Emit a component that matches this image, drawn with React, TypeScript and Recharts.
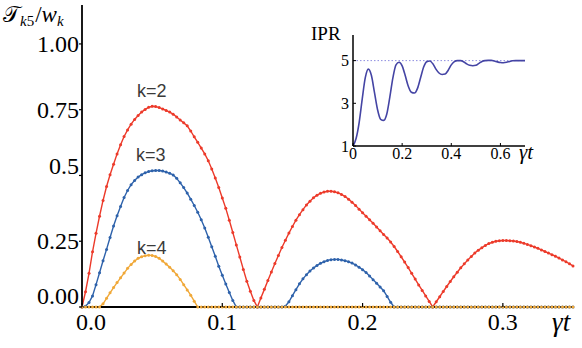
import React from "react";
import { LineChart, Line, XAxis, YAxis, ReferenceLine } from "recharts";

// sampling times (gamma t) of the main panel
const TIMES = [
  0, 0.0025, 0.005, 0.0075, 0.01, 0.0125, 0.015, 0.0175, 0.02, 0.0225,
  0.025, 0.0275, 0.03, 0.0325, 0.035, 0.0375, 0.04, 0.0425, 0.045, 0.0475,
  0.05, 0.0525, 0.055, 0.0575, 0.06, 0.0625, 0.065, 0.0675, 0.07, 0.0725,
  0.075, 0.0775, 0.08, 0.0825, 0.085, 0.0875, 0.09, 0.0925, 0.095, 0.0975,
  0.1, 0.1025, 0.105, 0.1075, 0.11, 0.1125, 0.115, 0.1175, 0.12, 0.1225,
  0.125, 0.1275, 0.13, 0.1325, 0.135, 0.1375, 0.14, 0.1425, 0.145, 0.1475,
  0.15, 0.1525, 0.155, 0.1575, 0.16, 0.1625, 0.165, 0.1675, 0.17, 0.1725,
  0.175, 0.1775, 0.18, 0.1825, 0.185, 0.1875, 0.19, 0.1925, 0.195, 0.1975,
  0.2, 0.2025, 0.205, 0.2075, 0.21, 0.2125, 0.215, 0.2175, 0.22, 0.2225,
  0.225, 0.2275, 0.23, 0.2325, 0.235, 0.2375, 0.24, 0.2425, 0.245, 0.2475,
  0.25, 0.2525, 0.255, 0.2575, 0.26, 0.2625, 0.265, 0.2675, 0.27, 0.2725,
  0.275, 0.2775, 0.28, 0.2825, 0.285, 0.2875, 0.29, 0.2925, 0.295, 0.2975,
  0.3, 0.3025, 0.305, 0.3075, 0.31, 0.3125, 0.315, 0.3175, 0.32, 0.3225,
  0.325, 0.3275, 0.33, 0.3325, 0.335, 0.3375, 0.34, 0.3425, 0.345, 0.3475,
  0.35,
];

// T_k5 / w_k for k = 2
const K2 = [
  0, 0.058, 0.128, 0.21, 0.28, 0.345, 0.405, 0.458, 0.503, 0.543,
  0.582, 0.617, 0.648, 0.673, 0.695, 0.713, 0.728, 0.741, 0.751, 0.759,
  0.763, 0.762, 0.758, 0.753, 0.747, 0.741, 0.733, 0.722, 0.711, 0.7,
  0.689, 0.669, 0.647, 0.626, 0.604, 0.582, 0.556, 0.525, 0.49, 0.454,
  0.414, 0.375, 0.33, 0.283, 0.236, 0.19, 0.143, 0.098, 0.06, 0.025,
  0, 0.034, 0.067, 0.101, 0.133, 0.165, 0.196, 0.226, 0.254, 0.281,
  0.306, 0.33, 0.351, 0.37, 0.388, 0.402, 0.415, 0.425, 0.432, 0.437,
  0.44, 0.44, 0.438, 0.434, 0.428, 0.42, 0.41, 0.398, 0.386, 0.372,
  0.358, 0.345, 0.332, 0.318, 0.304, 0.29, 0.276, 0.262, 0.247, 0.23,
  0.211, 0.191, 0.171, 0.15, 0.128, 0.106, 0.084, 0.063, 0.042, 0.021,
  0, 0.02, 0.039, 0.059, 0.078, 0.097, 0.115, 0.132, 0.149, 0.164,
  0.179, 0.192, 0.205, 0.216, 0.225, 0.234, 0.241, 0.246, 0.25, 0.252,
  0.253, 0.253, 0.252, 0.251, 0.249, 0.246, 0.242, 0.238, 0.233, 0.228,
  0.223, 0.217, 0.211, 0.205, 0.199, 0.193, 0.186, 0.179, 0.172, 0.164,
  0.156,
];

// k = 3
const K3 = [
  0, 0.003, 0.017, 0.042, 0.085, 0.13, 0.176, 0.219, 0.264, 0.308,
  0.347, 0.382, 0.416, 0.443, 0.465, 0.481, 0.494, 0.503, 0.51, 0.515,
  0.518, 0.519, 0.519, 0.517, 0.513, 0.508, 0.502, 0.489, 0.472, 0.454,
  0.433, 0.41, 0.386, 0.36, 0.332, 0.3, 0.265, 0.229, 0.193, 0.155,
  0.121, 0.087, 0.055, 0.025, 0, 0, 0, 0, 0, 0,
  0, 0, 0, 0, 0, 0, 0, 0, 0.003, 0.02,
  0.043, 0.066, 0.088, 0.107, 0.123, 0.137, 0.148, 0.158, 0.166, 0.172,
  0.177, 0.18, 0.181, 0.181, 0.179, 0.176, 0.172, 0.167, 0.16, 0.151,
  0.142, 0.131, 0.118, 0.104, 0.09, 0.076, 0.062, 0.04, 0.018, 0,
  0, 0, 0, 0, 0, 0, 0, 0, 0, 0,
  0, 0, 0, 0, 0, 0, 0, 0, 0, 0,
  0, 0, 0, 0, 0, 0, 0, 0, 0, 0,
  0, 0, 0, 0, 0, 0, 0, 0, 0, 0,
  0, 0, 0, 0, 0, 0, 0, 0, 0, 0,
  0,
];

// k = 4
const K4 = [
  0, 0, 0, 0, 0, 0, 0.012, 0.033, 0.054, 0.074,
  0.093, 0.111, 0.129, 0.147, 0.162, 0.175, 0.185, 0.191, 0.195, 0.197,
  0.196, 0.192, 0.185, 0.175, 0.163, 0.151, 0.138, 0.123, 0.105, 0.085,
  0.065, 0.045, 0.022, 0, 0, 0, 0, 0, 0, 0,
  0, 0, 0, 0, 0, 0, 0, 0, 0, 0,
  0, 0, 0, 0, 0, 0, 0, 0, 0, 0,
  0, 0, 0, 0, 0, 0, 0, 0, 0, 0,
  0, 0, 0, 0, 0, 0, 0, 0, 0, 0,
  0, 0, 0, 0, 0, 0, 0, 0, 0, 0,
  0, 0, 0, 0, 0, 0, 0, 0, 0, 0,
  0, 0, 0, 0, 0, 0, 0, 0, 0, 0,
  0, 0, 0, 0, 0, 0, 0, 0, 0, 0,
  0, 0, 0, 0, 0, 0, 0, 0, 0, 0,
  0, 0, 0, 0, 0, 0, 0, 0, 0, 0,
  0,
];

const X_TICKS = [0, 0.1, 0.2, 0.3];
const X_TICK_LABELS = ["0.0", "0.1", "0.2", "0.3"];
const Y_TICKS = [0, 0.25, 0.5, 0.75, 1];
const Y_TICK_LABELS = ["0.00", "0.25", "0.5", "0.75", "1.00"];

// inset: IPR vs gamma t
const IPR_TIMES = [
  0, 0.0125, 0.025, 0.0375, 0.05, 0.0625, 0.075, 0.0875, 0.1, 0.1125,
  0.125, 0.1375, 0.15, 0.1625, 0.175, 0.1875, 0.2, 0.2125, 0.225, 0.2375,
  0.25, 0.2625, 0.275, 0.2875, 0.3, 0.3125, 0.325, 0.3375, 0.35, 0.3625,
  0.375, 0.3875, 0.4, 0.4125, 0.425, 0.4375, 0.45, 0.4625, 0.475, 0.4875,
  0.5, 0.5125, 0.525, 0.5375, 0.55, 0.5625, 0.575, 0.5875, 0.6, 0.6125,
  0.625, 0.6375, 0.65, 0.6625, 0.675, 0.6875, 0.7,
];
const IPR = [
  1.0, 1.35, 2.1, 3.2, 4.2, 4.6, 4.3, 3.5, 2.7, 2.25,
  2.2, 2.5, 3.3, 4.2, 4.8, 4.92, 4.75, 4.3, 3.8, 3.52,
  3.48, 3.7, 4.2, 4.7, 4.95, 4.98, 4.85, 4.6, 4.42, 4.35,
  4.37, 4.55, 4.8, 4.95, 5.0, 5.0, 4.95, 4.85, 4.78, 4.76,
  4.78, 4.87, 4.96, 5.0, 5.01, 5.01, 4.98, 4.94, 4.91, 4.9,
  4.92, 4.96, 4.99, 5.0, 5.0, 5.0, 5.0,
];
const IPR_X_TICKS = [0, 0.2, 0.4, 0.6];
const IPR_X_LABELS = ["0", "0.2", "0.4", "0.6"];
const IPR_Y_TICKS = [1, 3, 5];
const IPR_LIMIT = 5;

const SERIF = '"Liberation Serif", "Times New Roman", serif';
const SANS = '"Liberation Sans", Arial, sans-serif';
const MATH = '"DejaVu Serif", "DejaVu Sans", serif';
const RED = "#ec3a2a";
const BLUE = "#2e62ab";
const ORANGE = "#f0a838";
const INK = "#000";

const rows = TIMES.map((t, i) => ({ t, k2: K2[i], k3: K3[i], k4: K4[i] }));
const iprRows = IPR_TIMES.map((t, i) => ({ t, ipr: IPR[i] }));

// label nudges as in the original figure
const Y_LABEL_SHIFT: Record<number, number> = { 0: -11, 0.5: -9 };

const serif = (size: number, italic = false): React.CSSProperties => ({
  fontFamily: SERIF,
  fontSize: size,
  fontStyle: italic ? "italic" : "normal",
});

function MainXTick(props: any) {
  const { x, y, payload } = props;
  const label = X_TICK_LABELS[X_TICKS.indexOf(payload.value)];
  const dx = payload.value === 0 ? 9 : 0;
  return (
    <g>
      <line x1={x} x2={x} y1={y} y2={y - 4} stroke={INK} strokeWidth={1.2} />
      <text x={x + dx} y={y + 23} textAnchor="middle" fill={INK} style={serif(24)}>
        {label}
      </text>
    </g>
  );
}

function MainYTick(props: any) {
  const { x, y, payload } = props;
  const label = Y_TICK_LABELS[Y_TICKS.indexOf(payload.value)];
  const shift = Y_LABEL_SHIFT[payload.value] ?? 0;
  return (
    <g>
      <line x1={x - 3} x2={x} y1={y} y2={y} stroke={INK} strokeWidth={1.2} />
      <text x={x - 3} y={y + 8 + shift} textAnchor="end" fill={INK} style={serif(24)}>
        {label}
      </text>
    </g>
  );
}

function InsetXTick(props: any) {
  const { x, y, payload } = props;
  const label = IPR_X_LABELS[IPR_X_TICKS.indexOf(payload.value)];
  return (
    <g>
      <line x1={x} x2={x} y1={y} y2={y - 3} stroke={INK} strokeWidth={1} />
      <text x={x} y={y + 12.5} textAnchor="middle" fill={INK} style={serif(16)}>
        {label}
      </text>
    </g>
  );
}

function InsetYTick(props: any) {
  const { x, y, payload } = props;
  return (
    <g>
      <line x1={x} x2={x + 3} y1={y} y2={y} stroke={INK} strokeWidth={1} />
      <text x={x - 4} y={y + 5.5} textAnchor="end" fill={INK} style={serif(16)}>
        {payload.value}
      </text>
    </g>
  );
}

const frame = { stroke: INK, strokeWidth: 1.8 };
const insetFrame = { stroke: INK, strokeWidth: 1.5 };

export default function App() {
  return (
    <div style={{ position: "absolute", left: 0, top: 0, width: 582, height: 348, background: "#fff" }}>
      <LineChart width={582} height={348} data={rows} margin={{ top: 5, right: 9, bottom: 0, left: 0 }}>
        <XAxis
          dataKey="t"
          type="number"
          domain={[0, 0.35]}
          ticks={X_TICKS}
          tick={<MainXTick />}
          tickLine={false}
          tickSize={0}
          tickMargin={0}
          height={41}
          axisLine={frame}
        />
        <XAxis xAxisId="top" orientation="top" type="number" domain={[0, 0.35]} tick={false} tickLine={false} height={0} axisLine={frame} />
        <YAxis
          type="number"
          domain={[0, 1.148]}
          ticks={Y_TICKS}
          tick={<MainYTick />}
          tickLine={false}
          tickSize={0}
          tickMargin={0}
          width={82}
          axisLine={frame}
        />
        <YAxis yAxisId="right" orientation="right" type="number" domain={[0, 1.148]} tick={false} tickLine={false} width={0} axisLine={frame} />
        <Line type="linear" dataKey="k2" stroke={RED} strokeWidth={1.4} dot={{ r: 1.5, fill: RED, stroke: "none" }} isAnimationActive={false} />
        <Line type="linear" dataKey="k3" stroke={BLUE} strokeWidth={1.4} dot={{ r: 1.5, fill: BLUE, stroke: "none" }} isAnimationActive={false} />
        <Line type="linear" dataKey="k4" stroke={ORANGE} strokeWidth={1.4} dot={{ r: 1.5, fill: ORANGE, stroke: "none" }} isAnimationActive={false} />
      </LineChart>

      <div style={{ position: "absolute", left: 300, top: 10 }}>
        <LineChart width={240} height={165} data={iprRows} margin={{ top: 25, right: 15, bottom: 0, left: 0 }}>
          <XAxis
            dataKey="t"
            type="number"
            domain={[0, 0.7]}
            ticks={IPR_X_TICKS}
            tick={<InsetXTick />}
            tickLine={false}
            tickSize={0}
            tickMargin={0}
            height={29}
            axisLine={insetFrame}
          />
          <XAxis xAxisId="top" orientation="top" type="number" domain={[0, 0.7]} tick={false} tickLine={false} height={0} axisLine={insetFrame} />
          <YAxis
            type="number"
            domain={[1, 6.2]}
            ticks={IPR_Y_TICKS}
            tick={<InsetYTick />}
            tickLine={false}
            tickSize={0}
            tickMargin={0}
            width={53}
            axisLine={insetFrame}
          />
          <YAxis yAxisId="right" orientation="right" type="number" domain={[1, 6.2]} tick={false} tickLine={false} width={0} axisLine={insetFrame} />
          <ReferenceLine y={IPR_LIMIT} stroke="#8d8de0" strokeDasharray="1.5 2" strokeWidth={1} />
          <Line type="monotone" dataKey="ipr" stroke="#4444a4" strokeWidth={1.6} dot={false} isAnimationActive={false} />
        </LineChart>
      </div>

      <svg width={582} height={348} style={{ position: "absolute", left: 0, top: 0, pointerEvents: "none" }}>
        <text x={3} y={22} fill={INK} style={serif(23)}>
          <tspan style={{ fontFamily: MATH, fontSize: 22 }}>𝒯</tspan>
          <tspan dy={4} style={serif(15, true)}>k</tspan>
          <tspan style={serif(15)}>5</tspan>
          <tspan dy={-4} dx={1}>/</tspan>
          <tspan style={serif(23, true)}>w</tspan>
          <tspan dy={4} style={serif(15, true)}>k</tspan>
        </text>
        <text x={552} y={331} fill={INK} style={serif(27, true)}>γt</text>
        <text x={137} y={97} fill="#3a3a3a" style={{ fontFamily: SANS, fontSize: 18 }}>k=2</text>
        <text x={136} y={161} fill="#3a3a3a" style={{ fontFamily: SANS, fontSize: 18 }}>k=3</text>
        <text x={137} y={254} fill="#3a3a3a" style={{ fontFamily: SANS, fontSize: 18 }}>k=4</text>
        <text x={311} y={40} fill={INK} style={serif(19)}>IPR</text>
        <text x={519} y={159} fill={INK} style={serif(21, true)}>γt</text>
      </svg>
    </div>
  );
}
